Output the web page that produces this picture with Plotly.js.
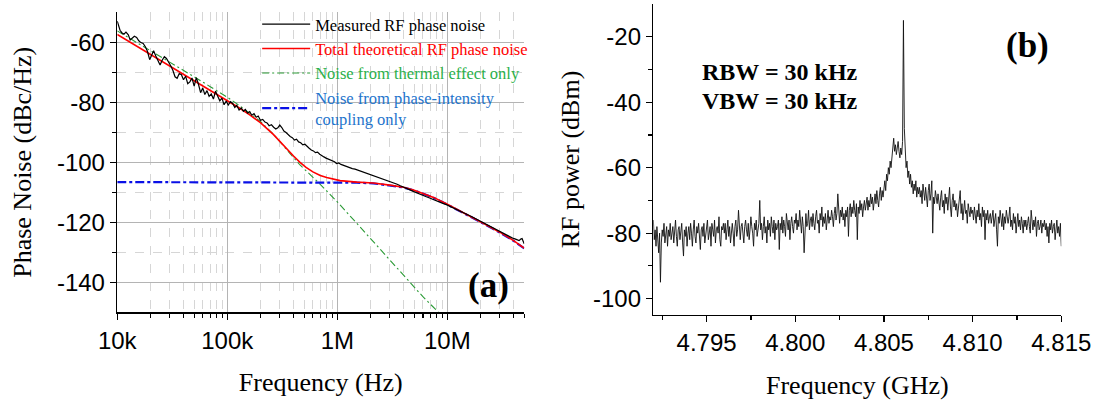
<!DOCTYPE html>
<html>
<head>
<meta charset="utf-8">
<script src="https://cdn.plot.ly/plotly-3.0.1.min.js"></script>
<style>html,body{margin:0;padding:0;background:#fff;}#chart{width:1099px;height:403px;}</style>
</head>
<body>
<div id="chart"></div>
<script>
// ---------- Panel (a): phase noise ----------
const measFreq = [10000,10300,10600,11000,11500,12000,12600,13100,13700,14300,15000,15700,16400,17200,18000,18800,19700,20500,21400,22400,23400,24500,25600,26800,28000,29300,30600,32000,33500,35000,36600,38300,40000,41800,43700,45700,47800,50000,52300,54700,57200,59800,62500,65400,68400,71500,74800,78200,81800,85500,89400,93500,97800,102000,107000,112000,117000,122000,128000,134000,140000,146000,153000,160000,167000,175000,183000,191000,200000,210000,220000,230000,240000,252000,264000,276000,288000,300000,313000,327000,342000,357000,373000,390000,408000,426000,445000,465000,486000,508000,531000,555000,580000,606000,633000,662000,692000,723000,756000,790000,826000,863000,902000,943000,985000,1030000,1080000,1130000,1180000,1240000,1300000,1370000,1450000,1530000,1620000,1720000,1830000,1950000,2080000,2220000,2370000,2530000,2700000,2880000,3070000,3280000,3500000,3740000,4000000,4280000,4580000,4900000,5250000,5620000,6020000,6450000,6900000,7400000,7900000,8500000,9100000,9800000,10500000,11300000,12100000,13000000,14000000,15000000,16200000,17400000,18700000,20100000,21600000,23200000,25000000,26900000,28900000,31100000,33500000,36000000,38800000,41700000,44900000,46500000,47800000,49000000,50000000];
const measDb = [-53.0,-54.5,-56.0,-56.8,-57.3,-56.6,-57.5,-59.2,-58.6,-58.0,-58.4,-59.5,-60.1,-60.4,-61.5,-63.0,-65.8,-64.0,-62.8,-64.6,-66.2,-67.6,-66.0,-64.8,-65.4,-66.5,-67.8,-69.3,-71.5,-72.0,-70.4,-70.8,-72.5,-71.3,-73.8,-73.2,-71.9,-74.6,-71.8,-74.0,-76.8,-75.2,-77.4,-76.1,-78.0,-77.2,-78.9,-76.3,-77.8,-79.5,-78.6,-80.8,-79.6,-80.9,-79.8,-80.4,-81.7,-81.0,-82.6,-81.9,-83.0,-82.4,-83.6,-83.1,-84.3,-83.8,-85.0,-84.6,-86.0,-85.7,-86.6,-86.9,-87.8,-87.5,-88.3,-88.9,-88.5,-87.6,-88.4,-89.6,-90.1,-90.9,-91.4,-91.8,-92.6,-92.3,-93.2,-93.5,-94.2,-94.0,-94.8,-95.3,-95.9,-96.2,-96.8,-96.6,-97.3,-97.9,-98.2,-98.6,-98.9,-99.4,-99.7,-99.8,-100.4,-100.2,-100.7,-101.0,-101.3,-101.5,-101.8,-102.1,-102.3,-102.6,-102.9,-103.3,-103.6,-103.9,-104.3,-104.6,-104.9,-105.3,-105.7,-106.0,-106.5,-106.9,-107.3,-107.8,-108.2,-108.7,-109.2,-109.7,-110.2,-110.6,-111.1,-111.5,-111.9,-112.4,-112.8,-113.3,-113.7,-114.1,-114.6,-115.1,-115.7,-116.2,-116.8,-117.3,-117.9,-118.5,-119.1,-119.7,-120.3,-120.9,-121.6,-122.3,-122.9,-123.5,-124.0,-124.6,-125.2,-125.6,-126.1,-125.6,-125.4,-126.4,-127.2];

const theoFreq = [10000,20000,30000,50000,70000,100000,130000,160000,200000,262000,300000,350000,400000,458000,520000,600000,700000,800000,900000,1060000,1500000,2120000,3000000,4000000,5000000,6000000,7500000,10000000,15000000,21200000,30000000,40000000,50000000];
const theoDb = [-57.4,-64.0,-67.9,-72.8,-76.0,-79.4,-82.0,-84.2,-86.8,-90.7,-93.0,-95.8,-97.9,-100.0,-101.7,-103.2,-104.4,-105.1,-105.6,-106.1,-106.6,-106.9,-107.6,-108.3,-109.3,-110.3,-111.7,-114.0,-117.3,-120.3,-123.3,-126.1,-128.6];

const thermFreq = [10000,20000,30000,50000,70000,100000,135000,200000,262000,350000,458000,672000,1000000,1500000,3000000,6000000,8300000,8600000];
const thermDb = [-56.2,-62.7,-66.6,-71.5,-74.8,-78.3,-81.6,-86.4,-90.6,-95.8,-100.9,-106.7,-113.2,-120.3,-132.6,-144.8,-150.0,-150.6];

const coupFreq = [10000,1000000,1500000,2120000,3000000,4000000,5000000,6000000,7500000,10000000,15000000,21200000,30000000,40000000,50000000];
const coupDb = [-106.6,-106.6,-106.8,-107.0,-107.7,-108.4,-109.4,-110.4,-111.8,-114.1,-117.4,-120.4,-123.4,-126.2,-128.7];

const phaseTickVals = [1e4,1e5,1e6,1e7];
const phaseTickText = ['10k','100k','1M','10M'];
const phaseYTickVals = [-140,-120,-100,-80,-60];
const phaseYTickText = ['-140','-120','-100','-80','-60'];
const phaseYMinor = [-130,-110,-90,-70];

const legendNames = ['Measured RF phase noise','Total theoretical RF phase noise','Noise from thermal effect only','Noise from phase-intensity<br>coupling only'];

// ---------- Panel (b): RF spectrum ----------
const sweepStartGHz = 4.792;
const sweepStepGHz = 0.00005;
const spectrumDbm = [
-76,-82,-79,-84,-78,-81,-86,-80,-95,-83,-79,-81,-77,-83,-80,-78,-84,-79,-81,-77,
-82,-79,-78,-83,-80,-76,-81,-84,-79,-78,-82,-80,-77,-83,-87,-79,-81,-78,-84,-80,
-78,-82,-77,-80,-84,-79,-76,-81,-83,-78,-80,-77,-82,-85,-79,-78,-81,-77,-83,-80,
-79,-76,-82,-80,-78,-84,-77,-79,-81,-76,-83,-79,-78,-80,-75,-82,-84,-78,-79,-77,
-80,-77,-82,-79,-76,-81,-78,-83,-79,-77,-80,-84,-78,-76,-81,-79,-73,-80,-82,-78,
-77,-80,-83,-78,-76,-79,-81,-77,-82,-79,-75,-78,-80,-84,-77,-79,-76,-81,-78,-77,
-70,-79,-77,-82,-78,-75,-80,-78,-83,-76,-79,-77,-81,-75,-78,-80,-76,-82,-77,-79,
-78,-76,-85,-77,-79,-75,-80,-76,-78,-81,-74,-77,-79,-76,-82,-77,-75,-78,-80,-76,
-77,-74,-79,-76,-78,-73,-77,-80,-75,-78,-86,-76,-74,-78,-77,-73,-79,-76,-75,-78,
-74,-77,-79,-75,-73,-77,-76,-80,-74,-76,-72,-78,-75,-77,-74,-79,-76,-73,-77,-75,
-76,-73,-75,-78,-74,-72,-76,-74,-68,-75,-77,-73,-75,-72,-76,-74,-78,-73,-75,-72,
-81,-73,-71,-75,-72,-74,-70,-73,-75,-71,-82,-72,-74,-70,-73,-71,-75,-72,-70,-73,
-71,-69,-73,-70,-72,-68,-71,-69,-73,-70,-68,-71,-67,-70,-72,-68,-66,-70,-67,-69,
-66,-64,-67,-62,-64,-60,-62,-58,-60,-56,-54,-51,-55,-53,-56,-54,-52,-55,-57,-54,
-56,-52,-15,-48,-57,-60,-58,-63,-61,-65,-62,-66,-64,-68,-65,-67,-64,-69,-66,-68,
-66,-69,-67,-71,-65,-68,-70,-66,-69,-72,-67,-65,-70,-68,-64,-80,-69,-71,-67,-70,
-71,-68,-70,-73,-69,-67,-72,-70,-74,-68,-71,-69,-73,-70,-66,-72,-75,-70,-68,-72,
-70,-73,-71,-75,-72,-69,-67,-74,-71,-76,-72,-70,-74,-73,-77,-71,-73,-75,-72,-74,
-73,-76,-72,-74,-77,-73,-75,-71,-76,-74,-78,-72,-75,-73,-82,-74,-76,-73,-77,-75,
-74,-77,-75,-73,-78,-76,-74,-79,-84,-75,-77,-73,-76,-78,-74,-79,-75,-77,-73,-76,
-77,-75,-72,-78,-76,-79,-74,-77,-75,-80,-76,-74,-78,-76,-79,-75,-77,-80,-76,-78,
-76,-79,-77,-75,-78,-80,-73,-77,-79,-76,-78,-75,-81,-77,-76,-79,-78,-76,-80,-77,
-78,-76,-79,-77,-81,-78,-83,-77,-79,-76,-80,-78,-77,-82,-79,-76,-80,-78,-81,-77,
-84];
const spectrumGHz = spectrumDbm.map((_, i) => +(sweepStartGHz + i * sweepStepGHz).toFixed(5));

const specXTickVals = [4.795,4.800,4.805,4.810,4.815];
const specXTickText = ['4.795','4.800','4.805','4.810','4.815'];
const specXMinor = [4.7925,4.7975,4.8025,4.8075,4.8125];
const specYTickVals = [-100,-80,-60,-40,-20];
const specYTickText = ['-100','-80','-60','-40','-20'];
const specYMinor = [-90,-70,-50,-30];

// minor decade ticks for the log axis
const phaseXMinor = [];
[1e4,1e5,1e6,1e7].forEach(d => { for (let k = 2; k <= 9; k++) { if (d*k <= 5e7) phaseXMinor.push(d*k); } });

const SANS = 'Liberation Sans, Arial, sans-serif';
const SERIF = 'Liberation Serif, Times New Roman, serif';

const traces = [
  {x: thermFreq, y: thermDb, xaxis:'x', yaxis:'y', mode:'lines', name: '<span style="color:#2bb04a">'+legendNames[2]+'</span>', legendrank:3,
   line:{color:'#2a9a35', width:1.1, dash:'7px,3px,2px,3px'}},
  {x: coupFreq, y: coupDb, xaxis:'x', yaxis:'y', mode:'lines', name: '<span style="color:#1e74cc">'+legendNames[3]+'</span>', legendrank:4,
   line:{color:'#0a10e6', width:2.2, dash:'9px,3px,3px,3px'}},
  {x: theoFreq, y: theoDb, xaxis:'x', yaxis:'y', mode:'lines', line:{color:'#ff0000', width:1.6},
   name: '<span style="color:#ff0000">'+legendNames[1]+'</span>', legendrank:2},
  {x: measFreq, y: measDb, xaxis:'x', yaxis:'y', mode:'lines', line:{color:'#000000', width:1.2},
   name: legendNames[0], legendrank:1},
  {x: spectrumGHz, y: spectrumDbm, xaxis:'x2', yaxis:'y2', mode:'lines', line:{color:'#111111', width:0.9}, showlegend:false}
];

const tickFont = {family: SANS, size: 24, color:'#000'};
const titleFont = {family: SERIF, size: 26, color:'#000'};

const layout = {
  width: 1099, height: 403,
  margin: {l:0, r:0, t:0, b:0},
  paper_bgcolor:'#fff', plot_bgcolor:'#fff',
  showlegend: true,
  legend: {x: 0.234, y: 0.983, xanchor:'left', yanchor:'top', bgcolor:'rgba(0,0,0,0)', borderwidth:0,
           font:{family: SERIF, size:16.5, color:'#000'}, itemwidth: 48, traceorder:'normal'},
  xaxis: {domain:[0.1067, 0.4770], type:'log', range:[4, Math.log10(5e7)], anchor:'y',
          tickmode:'array', tickvals: phaseTickVals, ticktext: phaseTickText, tickfont: tickFont,
          showline:true, linecolor:'#000', linewidth:1.5, ticks:'outside', ticklen:6, tickcolor:'#000', tickwidth:1.2,
          showgrid:true, gridcolor:'#b4b4b4', gridwidth:1, zeroline:false,
          minor:{tickmode:'array', tickvals: phaseXMinor, ticks:'outside', ticklen:4, tickcolor:'#000', showgrid:true, gridcolor:'#d6d6d6', griddash:'dash', gridwidth:1},
          title:{text:'Frequency (Hz)', font:titleFont, standoff: 20}},
  yaxis: {domain:[0.2251, 0.9695], range:[-150,-50], anchor:'x',
          tickmode:'array', tickvals: phaseYTickVals, ticktext: phaseYTickText, tickfont: tickFont,
          showline:true, linecolor:'#000', linewidth:1.5, ticks:'outside', ticklen:6, tickcolor:'#000', tickwidth:1.2,
          showgrid:true, gridcolor:'#b4b4b4', gridwidth:1, zeroline:false,
          minor:{tickmode:'array', tickvals: phaseYMinor, ticks:'outside', ticklen:4, tickcolor:'#000', showgrid:true, gridcolor:'#d6d6d6', griddash:'dash', gridwidth:1},
          title:{text:'Phase Noise (dBc/Hz)', font:titleFont, standoff: 18}},
  xaxis2: {domain:[0.5945, 0.9657], range:[4.792, 4.815], anchor:'y2',
          tickmode:'array', tickvals: specXTickVals, ticktext: specXTickText, tickfont: tickFont,
          showline:true, linecolor:'#000', linewidth:1.5, ticks:'outside', ticklen:6, tickcolor:'#000', tickwidth:1.2,
          showgrid:false, zeroline:false,
          minor:{tickmode:'array', tickvals: specXMinor, ticks:'outside', ticklen:4, tickcolor:'#000', showgrid:false},
          title:{text:'Frequency (GHz)', font:titleFont, standoff: 20}},
  yaxis2: {domain:[0.2184, 0.9901], range:[-105,-10], anchor:'x2',
          tickmode:'array', tickvals: specYTickVals, ticktext: specYTickText, tickfont: tickFont,
          showline:true, linecolor:'#000', linewidth:1.5, ticks:'outside', ticklen:6, tickcolor:'#000', tickwidth:1.2,
          showgrid:false, zeroline:false,
          minor:{tickmode:'array', tickvals: specYMinor, ticks:'outside', ticklen:4, tickcolor:'#000', showgrid:false},
          title:{text:'RF power (dBm)', font:titleFont, standoff: 6}},
  annotations: [
    {text:'<b>(a)</b>', xref:'paper', yref:'paper', x:0.4445, y:0.2928, xanchor:'center', yanchor:'middle', showarrow:false,
     font:{family:SERIF, size:35, color:'#000'}},
    {text:'<b>(b)</b>', xref:'paper', yref:'paper', x:0.9350, y:0.8883, xanchor:'center', yanchor:'middle', showarrow:false,
     font:{family:SERIF, size:35, color:'#000'}},
    {text:'<b>RBW = 30 kHz</b>', xref:'paper', yref:'paper', x:0.6369, y:0.8213, xanchor:'left', yanchor:'middle', showarrow:false,
     font:{family:SERIF, size:24, color:'#000'}},
    {text:'<b>VBW = 30 kHz</b>', xref:'paper', yref:'paper', x:0.6369, y:0.7499, xanchor:'left', yanchor:'middle', showarrow:false,
     font:{family:SERIF, size:24, color:'#000'}}
  ]
};

Plotly.newPlot('chart', traces, layout, {displayModeBar:false, staticPlot:true});
</script>
</body>
</html>
